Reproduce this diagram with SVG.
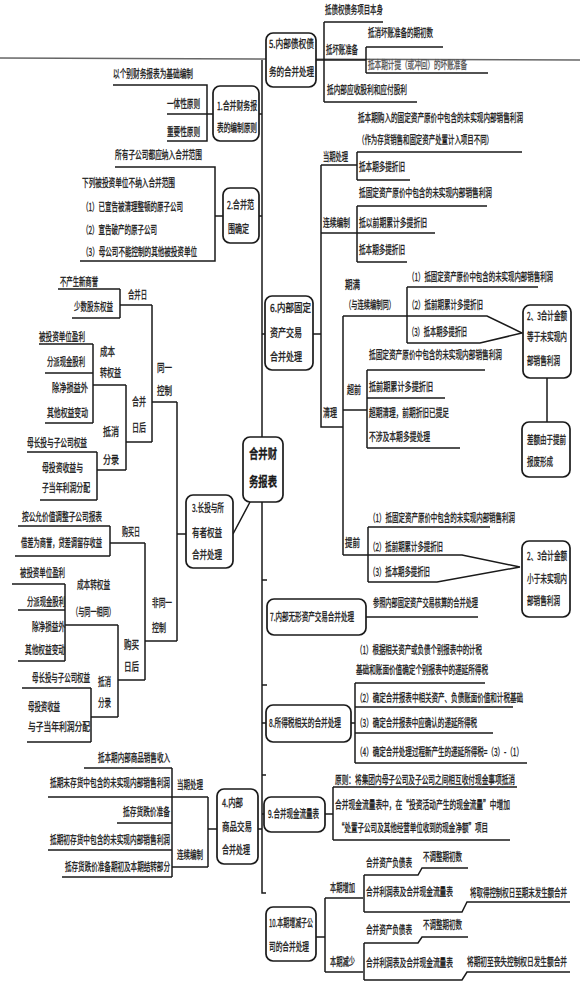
<svg xmlns="http://www.w3.org/2000/svg" width="580" height="982" viewBox="0 0 580 982">
<style>
text{font-family:"Noto Sans CJK SC","Noto Sans CJK JP",sans-serif;font-size:6.8px;fill:#1a1a1a;stroke:#1a1a1a;stroke-width:0.2}
.ct{font-size:9.3px;font-weight:bold}
.fd{fill:#555;stroke:#555}
.bx{fill:#fff;stroke:#1a1a1a;stroke-width:1.7}
.cn path{fill:none;stroke:#1a1a1a;stroke-width:1.5}
</style>
<rect width="580" height="982" fill="#fff"/>
<line x1="0" y1="58" x2="580" y2="60" stroke="#666" stroke-width="1.5"/>
<g class="cn" id="connectors">
<path d="M262 60V893H266M262 580H267M262 685H267M262 775H266"/>
<path d="M316 60H366M324 22V102M324 22H383M324 102H417M366 47V73M366 47H443M366 73H488"/>
<path d="M113 85H207V141H167M167 114H213M259 114H262"/>
<path d="M115 167H215V261H80M215 216H223M259 216H262"/>
<path d="M262 334H265M313 334H321M321 165V427H343M321 165H357M357 152V180M357 152H522M357 180H410M321 233H357M357 206V262M357 206H487M357 233H435M357 262H407"/>
<path d="M343 316V555M343 316H487L522 333L480 343H407M407 287V343M407 287H538M547 378V422"/>
<path d="M343 410H367M367 370V448M367 370H485M367 398H445M367 448H460"/>
<path d="M343 555H462L520 567M368 527V582M368 527H490M368 582H437L520 567"/>
<path d="M366 617H478"/>
<path d="M262 723H266M351 723H355M355 683V763M355 683H485M355 707H513M355 733H493M355 763H527"/>
<path d="M262 814H264M325 814H333M333 787V840M333 787H517M333 840H510"/>
<path d="M316 937H325M325 898V972M325 898H363M325 972H363M364 875V912M364 875H418L422 868H468M364 912H462L467 902H570M364 943V980M364 943H418L422 937H468M364 980H462L467 972H570"/>
<path d="M258 829H262M217 829H208M208 797V867M48 797H208M172 867H208M172 768V877M84 768H172M117 823H172M48 850H172M62 877H172"/>
<path d="M233 534L250 502M177 534H186M177 402V641"/>
<path d="M58 289H120M72 318H120M120 289V318M120 305H152M152 305V442M152 402H177M39 344H93M45 373H93M45 423H93M93 344V423M93 385H126M126 385V470M126 442H152M27 452H97M40 500H97M97 452V500M97 470H126"/>
<path d="M18 526H110M15 556H110M110 526V556M110 543H145M145 543V680M145 641H177M12 584H65M18 610H65M18 661H65M65 584V661M65 625H118M118 625V717M118 680H145M22 688H91M27 742H91M91 688V742M91 717H118"/>
</g>
<g id="center"><rect class="bx" x="243" y="437" width="40" height="65" rx="7"/>
<text class="ct" transform="matrix(1 0 0 1.4 249 458)" textLength="28" lengthAdjust="spacingAndGlyphs">合并财</text>
<text class="ct" transform="matrix(1 0 0 1.4 249 486)" textLength="28" lengthAdjust="spacingAndGlyphs">务报表</text></g>
<g id="n1"><rect class="bx" x="213" y="86" width="46" height="55" rx="7"/>
<text transform="matrix(1 0 0 1.6 217 110)" textLength="40" lengthAdjust="spacingAndGlyphs">1.合并财务报</text>
<text transform="matrix(1 0 0 1.6 217 132)" textLength="40" lengthAdjust="spacingAndGlyphs">表的编制原则</text></g>
<g id="n1-leaves">
<text transform="matrix(1 0 0 1.6 113 78)" textLength="80" lengthAdjust="spacingAndGlyphs">以个别财务报表为基础编制</text>
<text transform="matrix(1 0 0 1.6 167 108)" textLength="33" lengthAdjust="spacingAndGlyphs">一体性原则</text>
<text transform="matrix(1 0 0 1.6 167 136)" textLength="33" lengthAdjust="spacingAndGlyphs">重要性原则</text></g>
<g id="n2"><rect class="bx" x="223" y="188" width="36" height="55" rx="7"/>
<text transform="matrix(1 0 0 1.6 227 209)" textLength="27" lengthAdjust="spacingAndGlyphs">2.合并范</text>
<text transform="matrix(1 0 0 1.6 228 233)" textLength="21" lengthAdjust="spacingAndGlyphs">围确定</text></g>
<g id="n2-leaves">
<text transform="matrix(1 0 0 1.6 115 159)" textLength="87" lengthAdjust="spacingAndGlyphs">所有子公司都应纳入合并范围</text>
<text transform="matrix(1 0 0 1.6 82 187)" textLength="93" lengthAdjust="spacingAndGlyphs">下列被投资单位不纳入合并范围</text>
<text transform="matrix(1 0 0 1.6 82 211)" textLength="101" lengthAdjust="spacingAndGlyphs">（1）已宣告被清理整顿的原子公司</text>
<text transform="matrix(1 0 0 1.6 82 234)" textLength="75" lengthAdjust="spacingAndGlyphs">（2）宣告破产的原子公司</text>
<text transform="matrix(1 0 0 1.6 82 256)" textLength="115" lengthAdjust="spacingAndGlyphs">（3）母公司不能控制的其他被投资单位</text></g>
<g id="n3"><rect class="bx" x="186" y="495" width="47" height="73" rx="7"/>
<text transform="matrix(1 0 0 1.6 192 512)" textLength="32" lengthAdjust="spacingAndGlyphs">3.长投与所</text>
<text transform="matrix(1 0 0 1.6 192 537)" textLength="30" lengthAdjust="spacingAndGlyphs">有者权益</text>
<text transform="matrix(1 0 0 1.6 192 559)" textLength="30" lengthAdjust="spacingAndGlyphs">合并处理</text></g>
<g id="n3-same">
<text transform="matrix(1 0 0 1.6 60 286)" textLength="38" lengthAdjust="spacingAndGlyphs">不产生新商誉</text>
<text transform="matrix(1 0 0 1.6 74 311)" textLength="39" lengthAdjust="spacingAndGlyphs">少数股东权益</text>
<text transform="matrix(1 0 0 1.6 128 299)" textLength="19" lengthAdjust="spacingAndGlyphs">合并日</text>
<text transform="matrix(1 0 0 1.6 157 372)" textLength="15" lengthAdjust="spacingAndGlyphs">同一</text>
<text transform="matrix(1 0 0 1.6 157 395)" textLength="15" lengthAdjust="spacingAndGlyphs">控制</text>
<text transform="matrix(1 0 0 1.6 39 341)" textLength="46" lengthAdjust="spacingAndGlyphs">被投资单位盈利</text>
<text transform="matrix(1 0 0 1.6 47 366)" textLength="38" lengthAdjust="spacingAndGlyphs">分派现金股利</text>
<text transform="matrix(1 0 0 1.6 52 392)" textLength="36" lengthAdjust="spacingAndGlyphs">除净损益外</text>
<text transform="matrix(1 0 0 1.6 47 417)" textLength="41" lengthAdjust="spacingAndGlyphs">其他权益变动</text>
<text transform="matrix(1 0 0 1.6 100 356)" textLength="15" lengthAdjust="spacingAndGlyphs">成本</text>
<text transform="matrix(1 0 0 1.6 100 377)" textLength="21" lengthAdjust="spacingAndGlyphs">转权益</text>
<text transform="matrix(1 0 0 1.6 132 406)" textLength="14" lengthAdjust="spacingAndGlyphs">合并</text>
<text transform="matrix(1 0 0 1.6 132 432)" textLength="14" lengthAdjust="spacingAndGlyphs">日后</text>
<text transform="matrix(1 0 0 1.6 103 436)" textLength="16" lengthAdjust="spacingAndGlyphs">抵消</text>
<text transform="matrix(1 0 0 1.6 103 464)" textLength="16" lengthAdjust="spacingAndGlyphs">分录</text>
<text transform="matrix(1 0 0 1.6 27 447)" textLength="60" lengthAdjust="spacingAndGlyphs">母长投与子公司权益</text>
<text transform="matrix(1 0 0 1.6 42 472)" textLength="41" lengthAdjust="spacingAndGlyphs">母投资收益与</text>
<text transform="matrix(1 0 0 1.6 42 492)" textLength="48" lengthAdjust="spacingAndGlyphs">子当年利润分配</text></g>
<g id="n3-nonsame">
<text transform="matrix(1 0 0 1.6 22 521)" textLength="80" lengthAdjust="spacingAndGlyphs">按公允价值调整子公司报表</text>
<text transform="matrix(1 0 0 1.6 122 536)" textLength="18" lengthAdjust="spacingAndGlyphs">购买日</text>
<text transform="matrix(1 0 0 1.6 21 547)" textLength="81" lengthAdjust="spacingAndGlyphs">借差为商誉，贷差调留存收益</text>
<text transform="matrix(1 0 0 1.6 20 577)" textLength="45" lengthAdjust="spacingAndGlyphs">被投资单位盈利</text>
<text transform="matrix(1 0 0 1.6 77 589)" textLength="33" lengthAdjust="spacingAndGlyphs">成本转权益</text>
<text transform="matrix(1 0 0 1.6 27 606)" textLength="38" lengthAdjust="spacingAndGlyphs">分派现金股利</text>
<text transform="matrix(1 0 0 1.6 72 616)" textLength="43" lengthAdjust="spacingAndGlyphs">（与同一相同）</text>
<text transform="matrix(1 0 0 1.6 152 607)" textLength="20" lengthAdjust="spacingAndGlyphs">非同一</text>
<text transform="matrix(1 0 0 1.6 152 632)" textLength="14" lengthAdjust="spacingAndGlyphs">控制</text>
<text transform="matrix(1 0 0 1.6 32 631)" textLength="33" lengthAdjust="spacingAndGlyphs">除净损益外</text>
<text transform="matrix(1 0 0 1.6 25 654)" textLength="40" lengthAdjust="spacingAndGlyphs">其他权益变动</text>
<text transform="matrix(1 0 0 1.6 124 649)" textLength="15" lengthAdjust="spacingAndGlyphs">购买</text>
<text transform="matrix(1 0 0 1.6 124 671)" textLength="15" lengthAdjust="spacingAndGlyphs">日后</text>
<text transform="matrix(1 0 0 1.6 32 682)" textLength="58" lengthAdjust="spacingAndGlyphs">母长投与子公司权益</text>
<text transform="matrix(1 0 0 1.6 98 686)" textLength="13" lengthAdjust="spacingAndGlyphs">抵消</text>
<text transform="matrix(1 0 0 1.6 98 707)" textLength="13" lengthAdjust="spacingAndGlyphs">分录</text>
<text transform="matrix(1 0 0 1.6 28 711)" textLength="32" lengthAdjust="spacingAndGlyphs">母投资收益</text>
<text transform="matrix(1 0 0 1.6 28 731)" textLength="62" lengthAdjust="spacingAndGlyphs">与子当年利润分配</text></g>
<g id="n4"><rect class="bx" x="217" y="789" width="41" height="75" rx="7"/>
<text transform="matrix(1 0 0 1.6 222 807)" textLength="21" lengthAdjust="spacingAndGlyphs">4.内部</text>
<text transform="matrix(1 0 0 1.6 222 831)" textLength="30" lengthAdjust="spacingAndGlyphs">商品交易</text>
<text transform="matrix(1 0 0 1.6 222 854)" textLength="28" lengthAdjust="spacingAndGlyphs">合并处理</text></g>
<g id="n4-leaves">
<text transform="matrix(1 0 0 1.6 98 762)" textLength="72" lengthAdjust="spacingAndGlyphs">抵本期内部商品销售收入</text>
<text transform="matrix(1 0 0 1.6 177 789)" textLength="26" lengthAdjust="spacingAndGlyphs">当期处理</text>
<text transform="matrix(1 0 0 1.6 50 787)" textLength="120" lengthAdjust="spacingAndGlyphs">抵期末存货中包含的未实现内部销售利润</text>
<text transform="matrix(1 0 0 1.6 123 816)" textLength="47" lengthAdjust="spacingAndGlyphs">抵存货跌价准备</text>
<text transform="matrix(1 0 0 1.6 50 844)" textLength="120" lengthAdjust="spacingAndGlyphs">抵期初存货中包含的未实现内部销售利润</text>
<text transform="matrix(1 0 0 1.6 177 859)" textLength="26" lengthAdjust="spacingAndGlyphs">连续编制</text>
<text transform="matrix(1 0 0 1.6 65 871)" textLength="105" lengthAdjust="spacingAndGlyphs">抵存货跌价准备期初及本期结转部分</text></g>
<g id="n5"><rect class="bx" x="266" y="33" width="50" height="54" rx="7"/>
<text transform="matrix(1 0 0 1.6 269 48)" textLength="45" lengthAdjust="spacingAndGlyphs">5.内部债权债</text>
<text transform="matrix(1 0 0 1.6 269 76)" textLength="45" lengthAdjust="spacingAndGlyphs">务的合并处理</text></g>
<g id="n5-leaves">
<text transform="matrix(1 0 0 1.6 325 14)" textLength="58" lengthAdjust="spacingAndGlyphs">抵债权债务项目本身</text>
<text transform="matrix(1 0 0 1.6 368 37)" textLength="65" lengthAdjust="spacingAndGlyphs">抵消坏账准备的期初数</text>
<text transform="matrix(1 0 0 1.6 326 54)" textLength="32" lengthAdjust="spacingAndGlyphs">抵坏账准备</text>
<text class="fd" transform="matrix(1 0 0 1.6 368 69)" textLength="99" lengthAdjust="spacingAndGlyphs">抵本期计提（或冲回）的坏账准备</text>
<text transform="matrix(1 0 0 1.6 327 94)" textLength="80" lengthAdjust="spacingAndGlyphs">抵内部应收股利和应付股利</text></g>
<g id="n6"><rect class="bx" x="265" y="296" width="48" height="74" rx="7"/>
<text transform="matrix(1 0 0 1.6 270 312)" textLength="41" lengthAdjust="spacingAndGlyphs">6.内部固定</text>
<text transform="matrix(1 0 0 1.6 270 337)" textLength="32" lengthAdjust="spacingAndGlyphs">资产交易</text>
<text transform="matrix(1 0 0 1.6 270 361)" textLength="32" lengthAdjust="spacingAndGlyphs">合并处理</text></g>
<g id="n6-leaves">
<text transform="matrix(1 0 0 1.6 323 161)" textLength="25" lengthAdjust="spacingAndGlyphs">当期处理</text>
<text transform="matrix(1 0 0 1.6 358 122)" textLength="165" lengthAdjust="spacingAndGlyphs">抵本期购入的固定资产原价中包含的未实现内部销售利润</text>
<text transform="matrix(1 0 0 1.6 358 144)" textLength="135" lengthAdjust="spacingAndGlyphs">（作为存货销售和固定资产处置计入项目不同）</text>
<text transform="matrix(1 0 0 1.6 359 171)" textLength="46" lengthAdjust="spacingAndGlyphs">抵本期多提折旧</text>
<text transform="matrix(1 0 0 1.6 359 197)" textLength="133" lengthAdjust="spacingAndGlyphs">抵固定资产原价中包含的未实现内部销售利润</text>
<text transform="matrix(1 0 0 1.6 323 227)" textLength="27" lengthAdjust="spacingAndGlyphs">连续编制</text>
<text transform="matrix(1 0 0 1.6 359 227)" textLength="68" lengthAdjust="spacingAndGlyphs">抵以前期累计多提折旧</text>
<text transform="matrix(1 0 0 1.6 359 254)" textLength="46" lengthAdjust="spacingAndGlyphs">抵本期多提折旧</text>
<text transform="matrix(1 0 0 1.6 345 289)" textLength="15" lengthAdjust="spacingAndGlyphs">期满</text>
<text transform="matrix(1 0 0 1.6 345 309)" textLength="50" lengthAdjust="spacingAndGlyphs">（与连续编制同）</text>
<text transform="matrix(1 0 0 1.6 408 281)" textLength="145" lengthAdjust="spacingAndGlyphs">（1）抵固定资产原价中包含的未实现内部销售利润</text>
<text transform="matrix(1 0 0 1.6 408 309)" textLength="75" lengthAdjust="spacingAndGlyphs">（2）抵前期累计多提折旧</text>
<text transform="matrix(1 0 0 1.6 408 336)" textLength="59" lengthAdjust="spacingAndGlyphs">（3）抵本期多提折旧</text>
<text transform="matrix(1 0 0 1.6 369 359)" textLength="133" lengthAdjust="spacingAndGlyphs">抵固定资产原价中包含的未实现内部销售利润</text>
<text transform="matrix(1 0 0 1.6 347 394)" textLength="14" lengthAdjust="spacingAndGlyphs">超前</text>
<text transform="matrix(1 0 0 1.6 369 391)" textLength="64" lengthAdjust="spacingAndGlyphs">抵前期累计多提折旧</text>
<text transform="matrix(1 0 0 1.6 369 417)" textLength="80" lengthAdjust="spacingAndGlyphs">超期清理，前期折旧已提足</text>
<text transform="matrix(1 0 0 1.6 323 417)" textLength="14" lengthAdjust="spacingAndGlyphs">清理</text>
<text transform="matrix(1 0 0 1.6 369 441)" textLength="61" lengthAdjust="spacingAndGlyphs">不涉及本期多提处理</text>
<text transform="matrix(1 0 0 1.6 345 547)" textLength="15" lengthAdjust="spacingAndGlyphs">提前</text>
<text transform="matrix(1 0 0 1.6 369 522)" textLength="146" lengthAdjust="spacingAndGlyphs">（1）抵固定资产原价中包含的未实现内部销售利润</text>
<text transform="matrix(1 0 0 1.6 369 551)" textLength="74" lengthAdjust="spacingAndGlyphs">（2）抵前期累计多提折旧</text>
<text transform="matrix(1 0 0 1.6 369 576)" textLength="61" lengthAdjust="spacingAndGlyphs">（3）抵本期多提折旧</text></g>
<g id="note-a"><rect class="bx" x="523" y="305" width="48" height="73" rx="7"/>
<text transform="matrix(1 0 0 1.6 527 320)" textLength="40" lengthAdjust="spacingAndGlyphs">2、3合计金额</text>
<text transform="matrix(1 0 0 1.6 527 341)" textLength="40" lengthAdjust="spacingAndGlyphs">等于未实现内</text>
<text transform="matrix(1 0 0 1.6 527 365)" textLength="33" lengthAdjust="spacingAndGlyphs">部销售利润</text></g>
<g id="note-diff"><rect class="bx" x="522" y="422" width="48" height="55" rx="7"/>
<text transform="matrix(1 0 0 1.6 527 444)" textLength="39" lengthAdjust="spacingAndGlyphs">差额由于提前</text>
<text transform="matrix(1 0 0 1.6 527 466)" textLength="26" lengthAdjust="spacingAndGlyphs">报废形成</text></g>
<g id="note-b"><rect class="bx" x="522" y="541" width="48" height="76" rx="7"/>
<text transform="matrix(1 0 0 1.6 527 560)" textLength="40" lengthAdjust="spacingAndGlyphs">2、3合计金额</text>
<text transform="matrix(1 0 0 1.6 527 583)" textLength="40" lengthAdjust="spacingAndGlyphs">小于未实现内</text>
<text transform="matrix(1 0 0 1.6 527 605)" textLength="33" lengthAdjust="spacingAndGlyphs">部销售利润</text></g>
<g id="n7"><rect class="bx" x="267" y="599" width="99" height="36" rx="7"/>
<text transform="matrix(1 0 0 1.6 270 621)" textLength="84" lengthAdjust="spacingAndGlyphs">7.内部无形资产交易合并处理</text>
<text transform="matrix(1 0 0 1.6 373 607)" textLength="105" lengthAdjust="spacingAndGlyphs">参照内部固定资产交易核算的合并处理</text></g>
<g id="n8"><rect class="bx" x="266" y="705" width="85" height="37" rx="7"/>
<text transform="matrix(1 0 0 1.6 269 727)" textLength="72" lengthAdjust="spacingAndGlyphs">8.所得税相关的合并处理</text></g>
<g id="n8-leaves">
<text transform="matrix(1 0 0 1.6 356 654)" textLength="126" lengthAdjust="spacingAndGlyphs">（1）根据相关资产或负债个别报表中的计税</text>
<text transform="matrix(1 0 0 1.6 356 674)" textLength="132" lengthAdjust="spacingAndGlyphs">基础和账面价值确定个别报表中的递延所得税</text>
<text transform="matrix(1 0 0 1.6 356 702)" textLength="167" lengthAdjust="spacingAndGlyphs">（2）确定合并报表中相关资产、负债账面价值和计税基础</text>
<text transform="matrix(1 0 0 1.6 356 727)" textLength="121" lengthAdjust="spacingAndGlyphs">（3）确定合并报表中应确认的递延所得税</text>
<text transform="matrix(1 0 0 1.6 356 756)" textLength="167" lengthAdjust="spacingAndGlyphs">（4）确定合并处理过程新产生的递延所得税=（3）-（1）</text></g>
<g id="n9"><rect class="bx" x="264" y="797" width="61" height="35" rx="7"/>
<text transform="matrix(1 0 0 1.6 268 818)" textLength="51" lengthAdjust="spacingAndGlyphs">9.合并现金流量表</text></g>
<g id="n9-leaves">
<text transform="matrix(1 0 0 1.6 335 784)" textLength="180" lengthAdjust="spacingAndGlyphs">原则：将集团内母子公司及子公司之间相互收付现金事项抵消</text>
<text transform="matrix(1 0 0 1.6 335 809)" textLength="175" lengthAdjust="spacingAndGlyphs">合并现金流量表中，在“投资活动产生的现金流量”中增加</text>
<text transform="matrix(1 0 0 1.6 338 832)" textLength="150" lengthAdjust="spacingAndGlyphs">“处置子公司及其他经营单位收到的现金净额”项目</text></g>
<g id="n10"><rect class="bx" x="266" y="907" width="50" height="54" rx="7"/>
<text transform="matrix(1 0 0 1.6 269 927)" textLength="44" lengthAdjust="spacingAndGlyphs">10.本期增减子公</text>
<text transform="matrix(1 0 0 1.6 269 951)" textLength="40" lengthAdjust="spacingAndGlyphs">司的合并处理</text></g>
<g id="n10-leaves">
<text transform="matrix(1 0 0 1.6 330 892)" textLength="25" lengthAdjust="spacingAndGlyphs">本期增加</text>
<text transform="matrix(1 0 0 1.6 330 966)" textLength="25" lengthAdjust="spacingAndGlyphs">本期减少</text>
<text transform="matrix(1 0 0 1.6 366 867)" textLength="46" lengthAdjust="spacingAndGlyphs">合并资产负债表</text>
<text transform="matrix(1 0 0 1.6 423 861)" textLength="39" lengthAdjust="spacingAndGlyphs">不调整期初数</text>
<text transform="matrix(1 0 0 1.6 366 896)" textLength="87" lengthAdjust="spacingAndGlyphs">合并利润表及合并现金流量表</text>
<text transform="matrix(1 0 0 1.6 470 897)" textLength="97" lengthAdjust="spacingAndGlyphs">将取得控制权日至期末发生额合并</text>
<text transform="matrix(1 0 0 1.6 366 934)" textLength="46" lengthAdjust="spacingAndGlyphs">合并资产负债表</text>
<text transform="matrix(1 0 0 1.6 423 929)" textLength="39" lengthAdjust="spacingAndGlyphs">不调整期初数</text>
<text transform="matrix(1 0 0 1.6 366 967)" textLength="87" lengthAdjust="spacingAndGlyphs">合并利润表及合并现金流量表</text>
<text transform="matrix(1 0 0 1.6 467 966)" textLength="100" lengthAdjust="spacingAndGlyphs">将期初至丧失控制权日发生额合并</text></g>
</svg>
